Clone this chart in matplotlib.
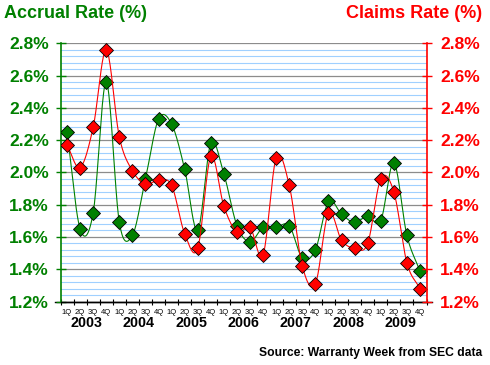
import numpy as np
import matplotlib
matplotlib.use("Agg")
import matplotlib.pyplot as plt
import matplotlib.transforms as mtransforms

years = ["2003", "2004", "2005", "2006", "2007", "2008", "2009"]
quarters = ["1Q", "2Q", "3Q", "4Q"]
accrual = [2.25, 1.65, 1.75, 2.56, 1.69, 1.61, 1.96, 2.33,
           2.30, 2.02, 1.64, 2.18, 1.99, 1.67, 1.57, 1.66,
           1.66, 1.67, 1.47, 1.52, 1.82, 1.74, 1.69, 1.73,
           1.70, 2.06, 1.61, 1.39]
claims = [2.17, 2.03, 2.28, 2.76, 2.22, 2.01, 1.93, 1.95,
          1.92, 1.62, 1.53, 2.10, 1.79, 1.63, 1.66, 1.49,
          2.09, 1.92, 1.42, 1.31, 1.75, 1.58, 1.53, 1.56,
          1.96, 1.88, 1.44, 1.28]
y_ticks = [1.2, 1.4, 1.6, 1.8, 2.0, 2.2, 2.4, 2.6, 2.8]

GREEN = "#008000"
RED = "#ff0000"
plt.rcParams['font.family'] = ['Liberation Sans', 'DejaVu Sans']


def catmull_rom(x, y, n=20):
    x = np.asarray(x, float)
    y = np.asarray(y, float)
    yp = np.concatenate([[2 * y[0] - y[1]], y, [2 * y[-1] - y[-2]]])
    xs, ys = [], []
    for i in range(len(y) - 1):
        p0, p1, p2, p3 = yp[i], yp[i + 1], yp[i + 2], yp[i + 3]
        t = np.linspace(0, 1, n, endpoint=False)
        yy = 0.5 * ((2 * p1) + (-p0 + p2) * t + (2 * p0 - 5 * p1 + 4 * p2 - p3) * t ** 2
                    + (-p0 + 3 * p1 - 3 * p2 + p3) * t ** 3)
        xs.append(x[i] + (x[i + 1] - x[i]) * t)
        ys.append(yy)
    xs.append([x[-1]])
    ys.append([y[-1]])
    return np.concatenate(xs), np.concatenate(ys)


fig = plt.figure(figsize=(4.9, 3.65), dpi=100)
fig.patch.set_facecolor("white")
ax = fig.add_axes([60.5 / 490, 1 - 301.5 / 365, (426.5 - 60.5) / 490, (301.5 - 43.3) / 365])
n = len(accrual)
xi = np.arange(n)

ax.set_xlim(-0.5, n - 0.5)
ax.set_ylim(1.2, 2.8)

# grid
for v in np.arange(1.24, 2.8, 0.04):
    if abs(round(v / 0.2) * 0.2 - v) > 1e-6:
        ax.axhline(v, color="#a0d0ff", lw=0.8, zorder=0)
for v in y_ticks:
    ax.axhline(v, color="#8c8c8c", lw=0.9, zorder=0.5)

xs, ys = catmull_rom(xi, accrual)
ax.plot(xs, ys, color=GREEN, lw=0.8, zorder=2)
ax.plot(xi, accrual, ls="none", marker="D", ms=7, mfc=GREEN, mec="black", mew=0.6, zorder=3)
xs, ys = catmull_rom(xi, claims)
ax.plot(xs, ys, color=RED, lw=0.8, zorder=4)
ax.plot(xi, claims, ls="none", marker="D", ms=7, mfc=RED, mec="black", mew=0.6, zorder=5)

# spines
for s in ["top", "right"]:
    ax.spines[s].set_visible(False)
ax.spines["left"].set_color(GREEN)
ax.spines["left"].set_linewidth(1.2)
ax.spines["bottom"].set_color("black")
ax.spines["bottom"].set_linewidth(1.0)

ax.set_yticks(y_ticks)
ax.set_yticklabels(["%.1f%%" % v for v in y_ticks])
ax.tick_params(axis="y", direction="inout", length=7.5, width=1.0, color=GREEN,
               labelcolor=GREEN, labelsize=12.5, pad=4.5)
for lab in ax.get_yticklabels():
    lab.set_fontweight("bold")

ax.set_xticks(np.arange(-0.5, n, 1.0))
ax.set_xticklabels([])
ax.tick_params(axis="x", direction="inout", length=4, width=0.8, color="black")

ax2 = ax.twinx()
ax2.set_ylim(1.2, 2.8)
for s in ["top", "left", "bottom"]:
    ax2.spines[s].set_visible(False)
ax2.spines["right"].set_color(RED)
ax2.spines["right"].set_linewidth(1.2)
ax2.set_yticks(y_ticks)
ax2.set_yticklabels(["%.1f%%" % v for v in y_ticks])
ax2.tick_params(axis="y", direction="inout", length=7.5, width=1.0, color=RED,
                labelcolor=RED, labelsize=12.5, pad=6)
for lab in ax2.get_yticklabels():
    lab.set_fontweight("bold")

# bottom line extension
ax.plot([-0.9, n - 0.1], [1.2, 1.2], color="black", lw=1.0, clip_on=False, zorder=1)

trans = mtransforms.blended_transform_factory(ax.transData, ax.transAxes)
for i in range(n):
    ax.text(i, -0.0445, quarters[i % 4], transform=trans, ha="center", va="center",
            fontsize=5.5, color="black")
for k, yr in enumerate(years):
    ax.text(4 * k + 1.5, -0.084, yr, transform=trans, ha="center", va="center",
            fontsize=10.3, fontweight="bold", color="black")

fig.text(4 / 490, 1 - 14 / 365, "Accrual Rate (%)", ha="left", va="center",
         fontsize=13, fontweight="bold", color=GREEN)
fig.text(482 / 490, 1 - 14 / 365, "Claims Rate (%)", ha="right", va="center",
         fontsize=13, fontweight="bold", color=RED)
fig.text(482 / 490, 1 - 353 / 365, "Source: Warranty Week from SEC data", ha="right",
         va="center", fontsize=8.7, fontweight="bold", color="black")

fig.savefig("out.png", dpi=100, facecolor="white")
